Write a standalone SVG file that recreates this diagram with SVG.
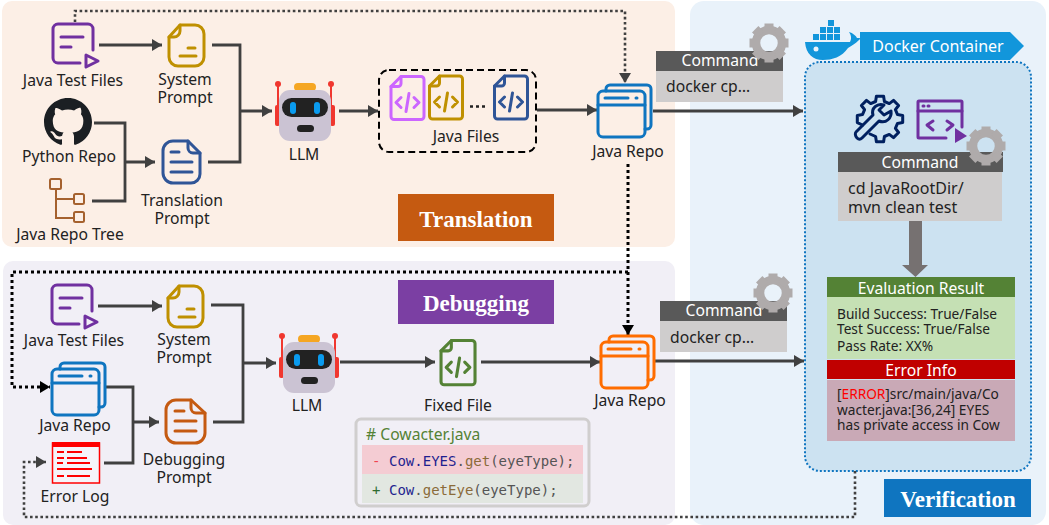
<svg xmlns="http://www.w3.org/2000/svg" width="1049" height="525" viewBox="0 0 1049 525">
<style>
text{font-family:"Noto Sans","Open Sans","DejaVu Sans",sans-serif;font-size:15.7px;fill:#222}
.m{text-anchor:middle}
.w{fill:#fff}
.s{font-size:13.7px}
.t{font-family:"Liberation Serif",serif;font-weight:700;font-size:23px;fill:#fff;text-anchor:middle}
.c{font-family:"DejaVu Sans Mono","Liberation Mono",monospace;font-size:14px;fill:#555}
.sol{fill:none;stroke:#404040;stroke-width:2.8}
.dot{fill:none;stroke:#404040;stroke-width:2.6;stroke-dasharray:2.6 2.6}
.dk{fill:none;stroke:#000;stroke-width:3;stroke-dasharray:3 3}
.i{fill:none;stroke-width:3;stroke-linecap:round;stroke-linejoin:round}
</style>
<defs>
<marker id="a" markerUnits="userSpaceOnUse" markerWidth="11" markerHeight="12" refX="10" refY="6" orient="auto"><path d="M0 0L10 6L0 12z" fill="#404040"/></marker>
<marker id="b" markerUnits="userSpaceOnUse" markerWidth="11" markerHeight="12" refX="10" refY="6" orient="auto"><path d="M0 0L10 6L0 12z" fill="#000"/></marker>
<g id="gear"><circle r="13" fill="none" stroke="#AFABAB" stroke-width="8.5"/><g fill="#AFABAB"><rect x="-4.500" y="-19.500" width="9" height="8"/><rect x="-4.500" y="-19.500" width="9" height="8" transform="rotate(45)"/><rect x="-4.500" y="-19.500" width="9" height="8" transform="rotate(90)"/><rect x="-4.500" y="-19.500" width="9" height="8" transform="rotate(135)"/><rect x="-4.500" y="-19.500" width="9" height="8" transform="rotate(180)"/><rect x="-4.500" y="-19.500" width="9" height="8" transform="rotate(225)"/><rect x="-4.500" y="-19.500" width="9" height="8" transform="rotate(270)"/><rect x="-4.500" y="-19.500" width="9" height="8" transform="rotate(315)"/></g></g>
<g id="testfile" class="i" stroke="#7030A0"><path d="M80 63H58a5 5 0 0 1-5-5V29a5 5 0 0 1 5-5H88a5 5 0 0 1 5 5V50"/><path d="M61 37H83M61 47H71"/><path d="M86 55L98 61L86 67z"/></g>
<g id="sysprompt" class="i" stroke="#BF9000"><path d="M180 25H195a9 9 0 0 1 9 9V57a9 9 0 0 1-9 9H178a9 9 0 0 1-9-9V37z"/><path d="M180 25V31a6 6 0 0 1-6 6H169"/><path d="M188 48H195M180 56H196"/></g>
<g id="bot"><rect x="294" y="83" width="22" height="8" rx="4" fill="#F5A623"/><path d="M278 84V106M331 84V106" stroke="#F0372F" stroke-width="2"/><circle cx="278" cy="84" r="3" fill="#F0372F"/><circle cx="331" cy="84" r="3" fill="#F0372F"/><rect x="275" y="105" width="5" height="21" rx="2" fill="#F0372F"/><rect x="330" y="105" width="5" height="21" rx="2" fill="#F0372F"/><rect x="279" y="90" width="52" height="51" rx="11" fill="#CBC3D3"/><rect x="282" y="98" width="46" height="19" rx="9.500" fill="#222"/><rect x="290" y="102" width="6" height="12" rx="3" fill="#0A9BEF"/><rect x="314" y="102" width="6" height="12" rx="3" fill="#0A9BEF"/><rect x="297" y="125" width="17" height="7" rx="3.500" fill="#222"/></g>
<g id="repo" class="i"><path d="M606 91V89a4 4 0 0 1 4-4H647a4 4 0 0 1 4 4V125a4 4 0 0 1-4 4H645"/><rect x="598" y="91" width="47" height="46" rx="5"/><path d="M598 105H645"/><path d="M605 98H628M636 98H637"/></g>
<g id="codefile" class="i"><path d="M11 1H31a3 3 0 0 1 3 3V41a3 3 0 0 1-3 3H4a3 3 0 0 1-3-3V11z"/><path d="M11 1V8a3 3 0 0 1-3 3H1"/><path d="M11 22L6 27L11 32M24 22L29 27L24 32M19 18L16 36"/></g>
</defs>

<rect id="translation-bg" x="2" y="1" width="673" height="246" rx="10" fill="#FCEFE6"/>
<rect id="debugging-bg" x="3" y="261" width="672" height="264" rx="10" fill="#F1EFF6"/>
<rect id="verification-bg" x="690" y="1" width="356" height="524" rx="14" fill="#E9F2FA"/>
<rect id="docker-container-bg" x="805" y="62" width="226" height="409" rx="15" fill="#CCE2F1" stroke="#0F75C0" stroke-width="2" stroke-dasharray="2 2"/>

<g id="connectors">
<path class="sol" d="M99 45H162" marker-end="url(#a)"/>
<path class="sol" d="M212 45H240V162H208M240 111H272" marker-end="url(#a)"/>
<path class="sol" d="M94 123H125V201H92M125 162H155" marker-end="url(#a)"/>
<path class="sol" d="M339 111H378" marker-end="url(#a)"/>
<path class="sol" d="M537 110H597" marker-end="url(#a)"/>
<path class="sol" d="M653 111H803" marker-end="url(#a)"/>
<path class="dot" d="M75 22V11H625V83" marker-end="url(#a)"/>
<path class="dk" d="M628 164V335" marker-end="url(#b)"/>
<path class="dk" d="M628 272H12V387H50" marker-end="url(#b)"/>
<path class="dot" d="M855 471V517H24V462H46" marker-end="url(#a)"/>
<path class="sol" d="M98 306H162" marker-end="url(#a)"/>
<path class="sol" d="M211 305H243V422H213M243 363H276" marker-end="url(#a)"/>
<path class="sol" d="M106 387H133V463H104M133 422H159" marker-end="url(#a)"/>
<path class="sol" d="M340 362H435" marker-end="url(#a)"/>
<path class="sol" d="M481 362H600" marker-end="url(#a)"/>
<path class="sol" d="M655 361H804" marker-end="url(#a)"/>
<path d="M909 221H922V265H928L915.500 277L902 265H909z" fill="#767171"/>
</g>

<g id="java-test-files-1"><use href="#testfile"/><text class="m" x="73" y="86">Java Test Files</text></g>
<g id="system-prompt-1"><use href="#sysprompt"/><text class="m"><tspan x="185" y="85">System</tspan><tspan x="185" y="103">Prompt</tspan></text></g>
<g id="python-repo"><path transform="translate(44 98) scale(3)" fill="#1b1f23" fill-rule="evenodd" d="M8 0C3.58 0 0 3.58 0 8c0 3.54 2.29 6.530 5.470 7.590.4.070.55-.17.55-.38 0-.19-.01-.82-.01-1.490-2.010.37-2.530-.49-2.690-.94-.09-.23-.48-.94-.82-1.130-.28-.15-.68-.52-.01-.53.63-.01 1.080.58 1.230.82.72 1.210 1.870.87 2.330.66.07-.52.28-.87.51-1.070-1.780-.2-3.640-.89-3.640-3.950 0-.87.31-1.590.82-2.150-.08-.2-.36-1.020.08-2.120 0 0 .67-.21 2.200.82.64-.18 1.320-.27 2-.27.68 0 1.360.09 2 .27 1.530-1.040 2.200-.82 2.200-.82.44 1.100.16 1.920.08 2.120.51.56.82 1.270.82 2.150 0 3.070-1.870 3.750-3.650 3.950.29.25.54.73.54 1.480 0 1.070-.01 1.930-.01 2.200 0 .21.15.46.55.38A8.013 8.013 0 0016 8c0-4.420-3.580-8-8-8z"/><text class="m" x="69" y="162">Python Repo</text></g>
<g id="translation-prompt"><g class="i" stroke="#2F5597"><path d="M173 141H188L200 153V174a9 9 0 0 1-9 9H173a10 10 0 0 1-10-10V151a10 10 0 0 1 10-10z"/><path d="M188 141V148a5 5 0 0 0 5 5H200"/><path d="M171 152H179M171 162H192M171 172H192"/></g><text class="m"><tspan x="182" y="206">Translation</tspan><tspan x="182" y="224">Prompt</tspan></text></g>
<g id="java-repo-tree"><g fill="none" stroke="#A5612E" stroke-width="2"><rect x="50" y="179" width="11" height="10" rx="1.500"/><rect x="74" y="194" width="10" height="10" rx="1.500"/><rect x="74" y="212" width="10" height="10" rx="1.500"/><path d="M56 189V218H74M56 199H74"/></g><text class="m" x="70" y="240">Java Repo Tree</text></g>
<g id="llm-1"><use href="#bot"/><text class="m" x="304" y="160">LLM</text></g>
<g id="java-files"><rect x="379" y="70" width="157" height="82" rx="10" fill="none" stroke="#000" stroke-width="2" stroke-dasharray="7 4"/><use href="#codefile" transform="translate(390 75.500)" stroke="#CC66FF"/><use href="#codefile" transform="translate(428.500 75)" stroke="#BF9000"/><use href="#codefile" transform="translate(493.500 75)" stroke="#2F5597"/><path d="M470 106.500h3M476 106.500h3M482 106.500h3" stroke="#222" stroke-width="2.500"/><text class="m" x="466" y="142">Java Files</text></g>
<g id="java-repo-1"><use href="#repo" stroke="#0F75C0"/><text class="m" x="628" y="157">Java Repo</text></g>
<g id="translation-label"><rect x="398" y="194" width="156" height="47" fill="#C55A11"/><text class="t" x="476" y="227">Translation</text></g>
<g id="command-1"><rect x="656" y="51" width="127" height="20" fill="#595959"/><rect x="656" y="71" width="127" height="31" fill="#CFCDCD"/><text class="m w" x="720" y="66">Command</text><text x="666" y="92">docker cp…</text><use href="#gear" transform="translate(769 43)"/></g>

<g id="debugging-label"><rect x="398" y="280" width="156" height="44" fill="#7B3FA3"/><text class="t" x="476" y="311">Debugging</text></g>
<g id="java-test-files-2"><use href="#testfile" transform="translate(-1 261)"/><text class="m" x="74" y="346">Java Test Files</text></g>
<g id="system-prompt-2"><use href="#sysprompt" transform="translate(-1 261)"/><text class="m"><tspan x="184" y="345">System</tspan><tspan x="184" y="363">Prompt</tspan></text></g>
<g id="java-repo-input"><use href="#repo" transform="translate(-546 278)" stroke="#0F75C0"/><text class="m" x="75" y="431">Java Repo</text></g>
<g id="debugging-prompt"><g class="i" stroke="#C55A11"><path d="M176 400H191L205 413V433a10 10 0 0 1-10 10H176a10 10 0 0 1-10-10V410a10 10 0 0 1 10-10z"/><path d="M191 400V408a5 5 0 0 0 5 5H205"/><path d="M175 411H184M175 421H196M175 431H196"/></g><text class="m"><tspan x="184" y="465">Debugging</tspan><tspan x="184" y="483">Prompt</tspan></text></g>
<g id="error-log"><rect x="52.500" y="443" width="47" height="40" fill="#fff" fill-opacity=".3" stroke="#FF0000" stroke-width="1.500"/><rect x="52" y="442" width="48" height="5" fill="#FF0000"/><path d="M57 452H64M67 452H82M57 458H64M67 458H87M57 463H63M67 463H90M57 469H92M57 476H64M67 476H90" stroke="#FF0000" stroke-width="1.800" fill="none"/><text class="m" x="75" y="502">Error Log</text></g>
<g id="llm-2"><use href="#bot" transform="translate(4 252)"/><text class="m" x="307" y="411">LLM</text></g>
<g id="fixed-file"><use href="#codefile" transform="translate(440 339.500) scale(1.030)" stroke="#548235"/><text class="m" x="458" y="411">Fixed File</text></g>
<g id="java-repo-2"><use href="#repo" transform="translate(3 251)" stroke="#FF6D00"/><text class="m" x="630" y="406">Java Repo</text></g>
<g id="code-diff"><rect x="356" y="419" width="233" height="87" rx="5" fill="none" stroke="#D0CECE" stroke-width="3"/><rect x="362" y="445" width="221" height="29" fill="#F4CCD3"/><rect x="362" y="474" width="221" height="29" fill="#E2E7E1"/><text x="366" y="440" style="fill:#548235"># Cowacter.java</text><text class="c" x="372" y="466"><tspan style="fill:#F0444F">-</tspan><tspan x="389" style="fill:#1F1F8F">Cow.EYES</tspan>.<tspan style="fill:#8B6B3A">get</tspan>(eyeType);</text><text class="c" x="372" y="495"><tspan style="fill:#2F6B2F">+</tspan><tspan x="389" style="fill:#1F1F8F">Cow</tspan>.<tspan style="fill:#8B6B3A">getEye</tspan>(eyeType);</text></g>
<g id="command-2"><rect x="660" y="301" width="127" height="20" fill="#595959"/><rect x="660" y="321" width="127" height="31" fill="#CFCDCD"/><text class="m w" x="724" y="316">Command</text><text x="670" y="343">docker cp…</text><use href="#gear" transform="translate(773 293)"/></g>

<g id="docker-container"><path d="M805 42H850C852 38 851 35 849 32C853 33 856 36 857 38C859 38 862 38 859 40C855 44 851 46 848 48C842 57 832 60 823 60C813 60 806 54 805 42z" fill="#1296DB"/><circle cx="816" cy="49" r="2.500" fill="#E9F2FA"/><g fill="#1296DB"><rect x="813" y="34" width="6" height="6"/><rect x="820" y="34" width="6" height="6"/><rect x="827" y="34" width="6" height="6"/><rect x="834" y="34" width="6" height="6"/><rect x="820" y="27" width="6" height="6"/><rect x="827" y="27" width="6" height="6"/><rect x="834" y="27" width="6" height="6"/><rect x="828" y="20" width="6" height="6"/></g><path d="M860 32H1010L1024 46L1010 60H860z" fill="#1296DB"/><text class="m w" x="938" y="52" style="font-size:16px">Docker Container</text></g>
<g id="build-tools"><g class="i" stroke="#002060"><path d="M862.500 125L857.300 122.600V115.400L862.500 114.600L864.600 109.700L861.400 105.500L866.500 100.400L870.700 103.600L875.600 101.500L876.400 96.300H883.600L884.400 101.500L889.300 103.600L893.500 100.400L898.600 105.500L895.400 109.700L897.500 114.600L902.700 115.400V122.600L897.500 123.400L895.400 128.300L898.600 132.500L893.500 137.600L889.300 134.400L884.400 136.500L883.600 141.700H876.400L875.600 136.500L870 134"/><path d="M856 132L873 115C871 108 877 103 884 105L879 110L884 115L891 111C892 118 886 124 879 121L862 138C860 140 858 139 857 138C855 136 855 133 856 132z"/></g><g class="i" stroke="#7030A0"><path d="M946 138H919a1 1 0 0 1-1-1V102a1 1 0 0 1 1-1H961a1 1 0 0 1 1 1V127"/><path d="M918 111H962M923 106H924M928 106H929"/><path d="M933 121L927 125L933 130M947 121L953 125L947 130"/></g><path d="M955 128L967 136L955 143z" fill="#7030A0"/></g>
<g id="command-3"><rect x="838" y="152" width="165" height="20" fill="#595959"/><rect x="838" y="172" width="164" height="49" fill="#CFCDCD"/><text class="m w" x="920" y="168">Command</text><text x="848" y="194" style="font-size:16px">cd JavaRootDir/</text><text x="848" y="213" style="font-size:16px">mvn clean test</text><use href="#gear" transform="translate(986 146)"/></g>
<g id="evaluation-result"><rect x="827" y="277" width="188" height="20" fill="#548235"/><rect x="827" y="297" width="188" height="62" fill="#C5E0B4"/><text class="m w" x="921" y="294">Evaluation Result</text><text class="s" x="837" y="319">Build Success: True/False</text><text class="s" x="837" y="334">Test Success: True/False</text><text class="s" x="837" y="351">Pass Rate: XX%</text></g>
<g id="error-info"><rect x="827" y="360" width="188" height="19" fill="#C00000"/><rect x="827" y="380" width="188" height="61" fill="#C9A9B6"/><text class="m w" x="921" y="376">Error Info</text><text class="s" x="837" y="399">[<tspan style="fill:#FF0000">ERROR</tspan>]src/main/java/Co</text><text class="s" x="837" y="415">wacter.java:[36,24] EYES</text><text class="s" x="837" y="430">has private access in Cow</text></g>
<g id="verification-label"><rect x="884" y="479" width="147" height="38" fill="#0F75C0"/><text class="t" x="958" y="507">Verification</text></g>
</svg>
